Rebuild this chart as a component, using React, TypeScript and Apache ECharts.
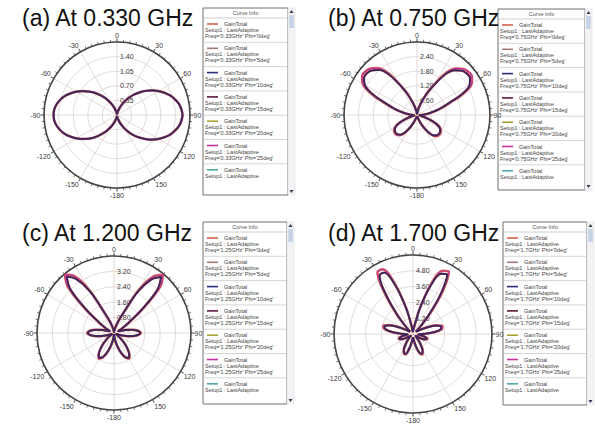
import React, { useEffect, useRef } from 'react';
import * as echarts from 'echarts';

const ANGLES = [
  -180, -175, -170, -165, -160, -155, -150, -145, -140, -135, -130, -125,
  -120, -115, -110, -105, -100, -95, -90, -85, -80, -75, -70, -65,
  -60, -55, -50, -45, -40, -35, -30, -25, -20, -15, -10, -5,
  0, 5, 10, 15, 20, 25, 30, 35, 40, 45, 50, 55,
  60, 65, 70, 75, 80, 85, 90, 95, 100, 105, 110, 115,
  120, 125, 130, 135, 140, 145, 150, 155, 160, 165, 170, 175, 180,
];

const TITLES = ['(a) At 0.330 GHz', '(b) At 0.750 GHz', '(c) At 1.200 GHz', '(d) At 1.700 GHz'];
const FREQ_LABELS = ['0.33GHz', '0.75GHz', '1.25GHz', '1.7GHz'];
const PHI_LABELS = ['0deg', '5deg', '10deg', '15deg', '20deg', '25deg'];
const RADIUS_MAX = [1.75, 3.0, 4.0, 6.0];
const RADIUS_STEP = [0.35, 0.6, 0.8, 1.2];

// (a) 0.330 GHz
const GAIN_A = [
  0.02, 0.03, 0.06, 0.11, 0.19, 0.28, 0.38, 0.50, 0.62, 0.76, 0.88, 1.00,
  1.12, 1.23, 1.33, 1.41, 1.47, 1.51, 1.52, 1.51, 1.47, 1.41, 1.33, 1.23,
  1.12, 1.00, 0.87, 0.75, 0.62, 0.50, 0.38, 0.27, 0.18, 0.10, 0.05, 0.03,
  0.02, 0.03, 0.05, 0.10, 0.18, 0.27, 0.39, 0.51, 0.64, 0.77, 0.90, 1.03,
  1.15, 1.26, 1.36, 1.44, 1.51, 1.55, 1.57, 1.55, 1.51, 1.44, 1.36, 1.26,
  1.15, 1.03, 0.90, 0.77, 0.64, 0.51, 0.39, 0.28, 0.19, 0.11, 0.06, 0.03, 0.02,
];

// (b) 0.750 GHz
const GAIN_B_DARK = [
  0.05, 0.05, 0.06, 0.10, 0.19, 0.38, 0.63, 0.89, 1.05, 1.12, 1.14, 1.11,
  1.03, 0.84, 0.52, 0.27, 0.12, 0.10, 0.18, 0.34, 0.58, 0.92, 1.32, 2.00,
  2.48, 2.66, 2.68, 2.60, 2.42, 2.05, 1.45, 1.00, 0.60, 0.35, 0.18, 0.08,
  0.05, 0.08, 0.18, 0.35, 0.60, 1.00, 1.45, 2.05, 2.40, 2.58, 2.66, 2.66,
  2.50, 2.05, 1.35, 0.95, 0.60, 0.35, 0.18, 0.10, 0.12, 0.28, 0.55, 0.88,
  1.08, 1.16, 1.19, 1.17, 1.10, 0.93, 0.66, 0.40, 0.20, 0.10, 0.06, 0.05, 0.05,
];
const GAIN_B_RED = [
  0.05, 0.05, 0.06, 0.10, 0.20, 0.40, 0.66, 0.92, 1.09, 1.16, 1.18, 1.15,
  1.07, 0.88, 0.55, 0.29, 0.13, 0.10, 0.19, 0.36, 0.61, 0.97, 1.39, 2.09,
  2.58, 2.76, 2.78, 2.70, 2.52, 2.14, 1.52, 1.05, 0.63, 0.37, 0.19, 0.08,
  0.05, 0.08, 0.19, 0.37, 0.63, 1.05, 1.52, 2.14, 2.50, 2.68, 2.76, 2.76,
  2.60, 2.14, 1.42, 1.00, 0.63, 0.37, 0.19, 0.10, 0.13, 0.30, 0.58, 0.92,
  1.12, 1.20, 1.23, 1.21, 1.14, 0.96, 0.69, 0.42, 0.21, 0.10, 0.06, 0.05, 0.05,
];

// (c) 1.200 GHz
const GAIN_C_DARK = [
  0.05, 0.20, 0.44, 0.76, 1.10, 1.38, 1.50, 1.38, 1.10, 0.78, 0.45, 0.22,
  0.10, 0.12, 0.28, 0.58, 0.92, 1.22, 1.36, 1.25, 0.95, 0.60, 0.28, 0.22,
  0.48, 0.90, 1.85, 3.20, 3.82, 3.42, 2.50, 1.15, 0.65, 0.35, 0.18, 0.10,
  0.05, 0.10, 0.18, 0.35, 0.65, 1.15, 2.50, 3.40, 3.80, 3.20, 1.85, 0.90,
  0.48, 0.22, 0.28, 0.60, 0.95, 1.25, 1.36, 1.22, 0.92, 0.58, 0.28, 0.12,
  0.10, 0.22, 0.45, 0.78, 1.10, 1.38, 1.50, 1.38, 1.10, 0.76, 0.44, 0.20, 0.05,
];
const GAIN_C_RED = [
  0.05, 0.21, 0.46, 0.79, 1.13, 1.42, 1.54, 1.42, 1.13, 0.80, 0.47, 0.23,
  0.10, 0.13, 0.29, 0.60, 0.95, 1.26, 1.40, 1.29, 0.98, 0.62, 0.29, 0.23,
  0.50, 0.95, 2.00, 3.40, 3.97, 3.62, 2.62, 1.20, 0.67, 0.36, 0.19, 0.10,
  0.05, 0.10, 0.19, 0.36, 0.67, 1.20, 2.62, 3.60, 3.95, 3.40, 2.00, 0.95,
  0.50, 0.23, 0.29, 0.62, 0.98, 1.29, 1.40, 1.26, 0.95, 0.60, 0.29, 0.13,
  0.10, 0.23, 0.47, 0.80, 1.13, 1.42, 1.54, 1.42, 1.13, 0.79, 0.46, 0.21, 0.05,
];

// (d) 1.700 GHz
const GAIN_D_DARK = [
  0.25, 0.38, 0.70, 1.20, 1.60, 1.58, 1.38, 1.00, 0.68, 0.38, 0.22, 0.24,
  0.50, 0.90, 1.10, 1.05, 0.70, 0.40, 0.78, 1.55, 2.12, 2.25, 1.90, 1.25,
  0.68, 0.35, 0.30, 0.65, 1.70, 3.40, 5.10, 5.15, 3.95, 2.05, 0.62, 0.20,
  0.15, 0.20, 0.60, 2.00, 3.90, 5.05, 5.20, 3.60, 1.80, 0.70, 0.30, 0.35,
  0.65, 1.20, 1.85, 2.22, 2.15, 1.60, 0.80, 0.40, 0.65, 1.00, 1.12, 0.95,
  0.55, 0.25, 0.22, 0.40, 0.70, 1.05, 1.45, 1.65, 1.55, 1.15, 0.65, 0.35, 0.25,
];
const GAIN_D_RED = [
  0.26, 0.40, 0.73, 1.25, 1.66, 1.64, 1.43, 1.04, 0.71, 0.40, 0.23, 0.25,
  0.52, 0.94, 1.15, 1.09, 0.73, 0.42, 0.81, 1.62, 2.22, 2.36, 2.00, 1.32,
  0.72, 0.37, 0.32, 0.70, 1.90, 3.70, 5.40, 5.42, 4.15, 2.15, 0.65, 0.21,
  0.16, 0.21, 0.63, 2.10, 4.10, 5.30, 5.45, 3.90, 2.00, 0.75, 0.32, 0.37,
  0.68, 1.26, 1.94, 2.32, 2.25, 1.68, 0.84, 0.42, 0.68, 1.05, 1.17, 0.99,
  0.58, 0.26, 0.23, 0.42, 0.73, 1.10, 1.52, 1.72, 1.62, 1.20, 0.68, 0.37, 0.26,
];

const PHI_COLORS = ['#d2604c', '#a37a7a', '#2c2c7c', '#5c1a3c', '#aaa232', '#c8329c'];
const EXTRA_COLOR = '#4fa8aa';

const GAINS_DARK = [GAIN_A, GAIN_B_DARK, GAIN_C_DARK, GAIN_D_DARK];
const GAINS_RED = [GAIN_A, GAIN_B_RED, GAIN_C_RED, GAIN_D_RED];

const LAYOUT = [
  { center: [117, 115], radius: 73, title: [22, 8], legend: [203, 8, 85, 187] },
  { center: [417, 115], radius: 73, title: [328, 8], legend: [498, 9, 87, 181] },
  { center: [114, 333], radius: 77, title: [22, 223], legend: [203, 222, 84, 182] },
  { center: [413, 334], radius: 79, title: [328, 223], legend: [503, 222, 84, 183] },
];

const FONT = 'Liberation Sans, Arial, sans-serif';

function legendElements(p: number) {
  const [x0, y0, w, h] = LAYOUT[p].legend;
  const els: any[] = [];
  els.push({ type: 'rect', shape: { x: x0, y: y0, width: w, height: h }, style: { fill: '#ffffff', stroke: '#707070', lineWidth: 1 } });
  const sx = x0 + w;
  els.push({ type: 'rect', shape: { x: sx, y: y0, width: 7, height: h }, style: { fill: '#f3f3f5', stroke: '#d8d8d8', lineWidth: 0.5 } });
  els.push({ type: 'polygon', shape: { points: [[sx + 1.5, y0 + 5], [sx + 5.5, y0 + 5], [sx + 3.5, y0 + 2]] }, style: { fill: '#3a3a50' } });
  els.push({ type: 'rect', shape: { x: sx + 1.2, y: y0 + 7, width: 4.6, height: 13 }, style: { fill: '#c6d3e6' } });
  els.push({ type: 'polygon', shape: { points: [[sx + 1.5, y0 + h - 5], [sx + 5.5, y0 + h - 5], [sx + 3.5, y0 + h - 2]] }, style: { fill: '#3a3a50' } });
  els.push({ type: 'text', x: x0 + w / 2, y: y0 + 5, style: { text: 'Curve Info', fontSize: 5.5, fontFamily: FONT, fill: '#555', align: 'center', verticalAlign: 'middle' } });
  els.push({ type: 'line', shape: { x1: x0, y1: y0 + 10, x2: x0 + w, y2: y0 + 10 }, style: { stroke: '#b0b0b0', lineWidth: 0.6 } });
  const pitch = 24.3;
  for (let k = 0; k < 7; k++) {
    const top = y0 + 10 + k * pitch;
    const color = k < 6 ? PHI_COLORS[k] : EXTRA_COLOR;
    els.push({ type: 'line', shape: { x1: x0 + 4, y1: top + 6, x2: x0 + 15, y2: top + 6 }, style: { stroke: color, lineWidth: 1.6 } });
    els.push({ type: 'text', x: x0 + 21, y: top + 6, style: { text: 'GainTotal', fontSize: 5.5, fontFamily: FONT, fill: '#444', align: 'left', verticalAlign: 'middle' } });
    els.push({ type: 'text', x: x0 + 2, y: top + 12, style: { text: 'Setup1 : LastAdaptive', fontSize: 5.5, fontFamily: FONT, fill: '#444', align: 'left', verticalAlign: 'middle' } });
    if (k < 6) {
      els.push({ type: 'text', x: x0 + 2, y: top + 18, style: { text: "Freq='" + FREQ_LABELS[p] + "' Phi='" + PHI_LABELS[k] + "'", fontSize: 5.5, fontFamily: FONT, fill: '#444', align: 'left', verticalAlign: 'middle' } });
      els.push({ type: 'line', shape: { x1: x0, y1: top + pitch, x2: x0 + w, y2: top + pitch }, style: { stroke: '#b8b8b8', lineWidth: 0.6 } });
    }
  }
  return els;
}

function buildOption() {
  const polar: any[] = [];
  const angleAxis: any[] = [];
  const radiusAxis: any[] = [];
  const series: any[] = [];
  const title: any[] = [];
  let graphic: any[] = [];
  for (let p = 0; p < 4; p++) {
    const L = LAYOUT[p];
    polar.push({ center: L.center, radius: L.radius });
    angleAxis.push({
      polarIndex: p,
      type: 'value',
      min: 0,
      max: 360,
      interval: 30,
      startAngle: 90,
      clockwise: true,
      axisLine: { show: true, lineStyle: { color: '#454545', width: 1.6 } },
      axisTick: { show: true, length: 3.5, lineStyle: { color: '#454545', width: 1 } },
      minorTick: { show: true, splitNumber: 6, length: 2.5, lineStyle: { color: '#555', width: 0.8 } },
      splitLine: { show: true, lineStyle: { color: '#ddd0d0', width: 0.8 } },
      axisLabel: {
        fontSize: 7,
        color: '#3a3a3a',
        fontFamily: FONT,
        margin: 3.5,
        formatter: (v: number) => (v === 360 ? '' : v >= 180 ? String(v - 360) : String(v)),
      },
    });
    const mx = RADIUS_MAX[p];
    radiusAxis.push({
      polarIndex: p,
      type: 'value',
      min: 0,
      max: mx,
      interval: RADIUS_STEP[p],
      axisLine: { show: false },
      axisTick: { show: false },
      splitLine: { show: true, lineStyle: { color: '#ddd0d0', width: 0.8 } },
      axisLabel: {
        fontSize: 7,
        color: '#3a3a3a',
        fontFamily: FONT,
        margin: -3,
        align: 'left',
        formatter: (v: number) => (v <= 0 || v >= mx - 1e-6 ? '' : v.toFixed(2)),
      },
    });
    const toData = (arr: number[]) => ANGLES.map((a, j) => [arr[j], a < 0 ? a + 360 : a]);
    const dark = toData(GAINS_DARK[p]);
    const red = toData(GAINS_RED[p]);
    const mk = (name: string, data: any[], color: string, width: number) => ({
      type: 'line',
      name,
      coordinateSystem: 'polar',
      polarIndex: p,
      data,
      showSymbol: false,
      smooth: 0.35,
      lineStyle: { color, width },
      silent: true,
      z: 3,
    });
    series.push(mk("Phi='0deg'", red, PHI_COLORS[0], 2.4));
    series.push(mk("Phi='25deg'", red, PHI_COLORS[5], 1.2));
    series.push(mk("Phi='20deg'", dark, PHI_COLORS[4], 1.0));
    series.push(mk("Phi='5deg'", dark, PHI_COLORS[1], 2.3));
    series.push(mk("Phi='15deg'", dark, PHI_COLORS[3], 1.8));
    series.push(mk("Phi='10deg'", dark, PHI_COLORS[2], 0.9));
    title.push({
      text: TITLES[p],
      left: L.title[0],
      top: L.title[1],
      padding: 0,
      textStyle: { fontSize: 23, lineHeight: 19, fontWeight: 'normal', color: '#111', fontFamily: FONT },
    });
    graphic = graphic.concat(legendElements(p));
  }
  return {
    animation: false,
    backgroundColor: '#ffffff',
    textStyle: { fontFamily: FONT },
    title,
    polar,
    angleAxis,
    radiusAxis,
    series,
    graphic,
  };
}

export default function App() {
  const ref = useRef<HTMLDivElement>(null);
  useEffect(() => {
    if (!ref.current) return;
    const chart = echarts.init(ref.current, undefined, { renderer: 'svg' });
    chart.setOption(buildOption() as any);
    return () => chart.dispose();
  }, []);
  return (
    <div
      ref={ref}
      style={{ position: 'fixed', left: 0, top: 0, width: 595, height: 424, background: '#fff' }}
    />
  );
}
